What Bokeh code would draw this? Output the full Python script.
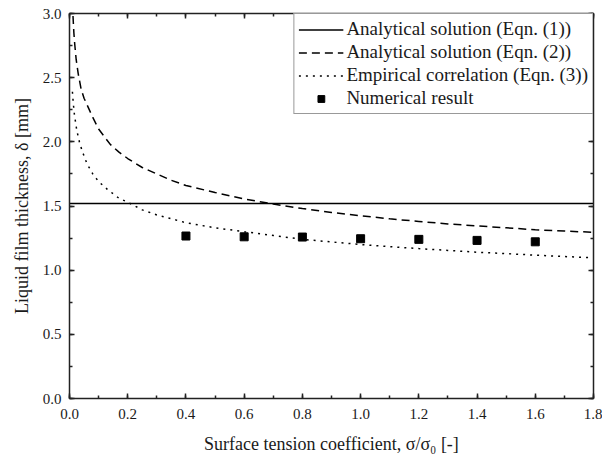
from bokeh.plotting import figure
from bokeh.models import (LinearAxis, SingleIntervalTicker, NumeralTickFormatter,
                          CustomJSTickFormatter, Range1d, Legend, LegendItem)
from bokeh.embed import file_html
from bokeh.resources import INLINE

# ---------------- data ----------------
eqn1_x = [0.0, 1.8]
eqn1_y = [1.52, 1.52]

eqn2_x = [0.012, 0.015, 0.018, 0.023, 0.03, 0.04, 0.05, 0.06, 0.08, 0.1, 0.12, 0.14,
          0.17, 0.2, 0.25, 0.3, 0.35, 0.4, 0.5, 0.6, 0.7, 0.8, 0.9, 1.0, 1.1, 1.2,
          1.3, 1.4, 1.5, 1.6, 1.7, 1.8]
eqn2_y = [2.98, 2.85, 2.76, 2.64, 2.53, 2.41, 2.34, 2.29, 2.19, 2.10, 2.04, 1.98,
          1.92, 1.87, 1.80, 1.75, 1.70, 1.66, 1.605, 1.555, 1.515, 1.48, 1.45, 1.424,
          1.40, 1.38, 1.36, 1.345, 1.33, 1.315, 1.305, 1.295]

eqn3_x = [0.01, 0.013, 0.017, 0.025, 0.035, 0.045, 0.06, 0.08, 0.1, 0.13, 0.17, 0.2,
          0.25, 0.3, 0.4, 0.5, 0.6, 0.7, 0.8, 0.9, 1.0, 1.1, 1.2, 1.3, 1.4, 1.5,
          1.6, 1.7, 1.8]
eqn3_y = [2.39, 2.30, 2.21, 2.09, 1.99, 1.92, 1.83, 1.75, 1.69, 1.63, 1.56, 1.53,
          1.47, 1.43, 1.37, 1.33, 1.30, 1.27, 1.24, 1.22, 1.20, 1.183, 1.168, 1.154,
          1.14, 1.129, 1.117, 1.106, 1.097]

num_x = [0.4, 0.6, 0.8, 1.0, 1.2, 1.4, 1.6]
num_y = [1.266, 1.260, 1.258, 1.245, 1.240, 1.232, 1.221]

labels = ["Analytical solution (Eqn. (1))",
          "Analytical solution (Eqn. (2))",
          "Empirical correlation (Eqn. (3))",
          "Numerical result"]

FONT = "Liberation Serif"
AXC = "#222222"

p = figure(width=602, height=458, output_backend="svg", toolbar_location=None,
           x_range=Range1d(0, 1.8), y_range=Range1d(0, 3.0),
           min_border_left=69, min_border_right=9, min_border_top=13,
           min_border_bottom=60, x_axis_location=None, y_axis_location=None)
p.xgrid.visible = False
p.ygrid.visible = False
p.outline_line_color = None
p.background_fill_color = "white"
p.border_fill_color = "white"

xt = SingleIntervalTicker(interval=0.2, num_minor_ticks=2)
yt = SingleIntervalTicker(interval=0.5, num_minor_ticks=2)
fmt = NumeralTickFormatter(format="0.0")
blank = CustomJSTickFormatter(code="return '';")


def style(ax, show_labels, label_standoff=8, title_standoff=10):
    ax.axis_line_color = AXC
    ax.axis_line_width = 1.5
    ax.major_tick_line_color = AXC
    ax.major_tick_line_width = 1.5
    ax.minor_tick_line_color = AXC
    ax.minor_tick_line_width = 1.5
    ax.major_tick_in = 5
    ax.major_tick_out = 0
    ax.minor_tick_in = 3
    ax.minor_tick_out = 0
    if show_labels:
        ax.major_label_text_font = FONT
        ax.major_label_text_font_size = "15px"
        ax.major_label_text_color = "#1a1a1a"
        ax.major_label_standoff = label_standoff
        ax.axis_label_text_font = FONT
        ax.axis_label_text_font_size = "18px"
        ax.axis_label_text_font_style = "normal"
        ax.axis_label_text_color = "#1a1a1a"
        ax.axis_label_standoff = title_standoff
    else:
        ax.major_label_standoff = 0
        ax.axis_label = None


xb = LinearAxis(ticker=xt, formatter=fmt, axis_label="Surface tension coefficient, σ/σ₀ [-]")
yl = LinearAxis(ticker=yt, formatter=fmt, axis_label="Liquid film thickness, δ [mm]")
xtop = LinearAxis(ticker=xt, formatter=blank)
yr = LinearAxis(ticker=yt, formatter=blank)
style(xb, True, 10, 12)
style(yl, True, 8, 8)
style(xtop, False)
style(yr, False)
p.add_layout(xb, "below")
p.add_layout(yl, "left")
p.add_layout(xtop, "above")
p.add_layout(yr, "right")

r1 = p.line(eqn1_x, eqn1_y, line_color="black", line_width=1.5)
r2 = p.line(eqn2_x, eqn2_y, line_color="black", line_width=1.5, line_dash="8 5")
r3 = p.line(eqn3_x, eqn3_y, line_color="black", line_width=1.5, line_dash="2 5")
r4 = p.scatter(num_x, num_y, marker="square", size=8, fill_color="black",
               line_color="black")

legend = Legend(items=[LegendItem(label=labels[0], renderers=[r1]),
                       LegendItem(label=labels[1], renderers=[r2]),
                       LegendItem(label=labels[2], renderers=[r3]),
                       LegendItem(label=labels[3], renderers=[r4])],
                location="top_right", margin=0, padding=4, spacing=1,
                label_height=17, glyph_height=17, glyph_width=45, label_standoff=3,
                label_text_font=FONT, label_text_font_size="19px",
                label_text_color="#1a1a1a",
                border_line_color="#333333", border_line_width=1,
                background_fill_color="white", background_fill_alpha=1.0)
p.add_layout(legend, "center")

open("out.html", "w").write(file_html(p, INLINE))
